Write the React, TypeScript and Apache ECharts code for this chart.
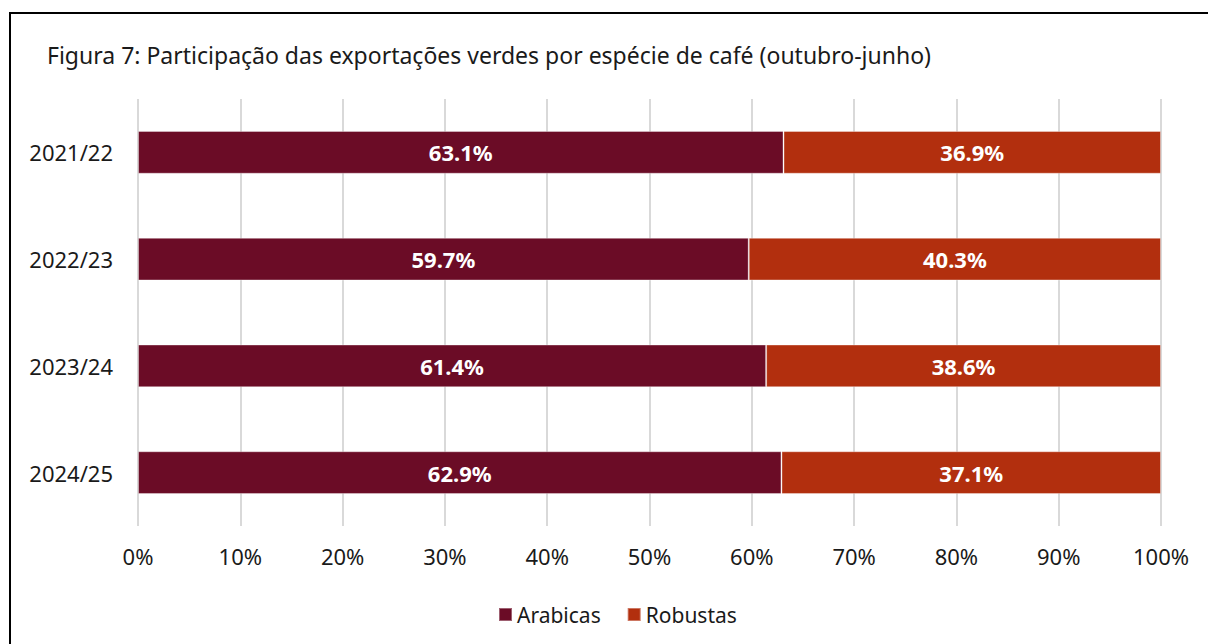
import React, { useEffect, useRef } from "react";
import * as echarts from "echarts";

const categories = ["2021/22", "2022/23", "2023/24", "2024/25"];
const arabicas = [63.1, 59.7, 61.4, 62.9];
const robustas = [36.9, 40.3, 38.6, 37.1];
const xTicks = [0, 10, 20, 30, 40, 50, 60, 70, 80, 90, 100];
const seriesNames = ["Arabicas", "Robustas"];
const title = "Figura 7: Participação das exportações verdes por espécie de café (outubro-junho)";

const FONT = "Noto Sans";

export default function App() {
  const ref = useRef<HTMLDivElement>(null);
  useEffect(() => {
    if (!ref.current) return;
    const chart = echarts.init(ref.current, undefined, { renderer: "svg" });
    const label = {
      show: true,
      position: "inside",
      color: "#ffffff",
      fontWeight: "bold",
      fontSize: 22,
      fontFamily: FONT,
      formatter: (p: any) => p.value.toFixed(1) + "%",
    };
    chart.setOption({
      animation: false,
      backgroundColor: "#ffffff",
      textStyle: { fontFamily: FONT },
      title: {
        text: title,
        left: 42,
        top: 38,
        textStyle: { fontSize: 23, fontWeight: "normal", color: "#1a1a1a", fontFamily: FONT },
      },
      graphic: [
        {
          type: "rect",
          shape: { x: 10, y: 13, width: 1400, height: 800 },
          style: { fill: "none", stroke: "#000000", lineWidth: 2 },
          silent: true,
        },
      ],
      legend: {
        data: seriesNames,
        left: 493,
        top: 599,
        icon: "rect",
        itemWidth: 13,
        itemHeight: 13,
        itemGap: 26,
        textStyle: { fontSize: 21, color: "#1a1a1a", fontFamily: FONT },
      },
      grid: { left: 138, right: 47, top: 99, bottom: 118, containLabel: false },
      xAxis: {
        type: "value",
        min: xTicks[0],
        max: xTicks[xTicks.length - 1],
        interval: 10,
        axisLine: { show: false },
        axisTick: { show: false },
        splitLine: { show: true, lineStyle: { color: "#d9d9d9", width: 2 } },
        axisLabel: {
          formatter: (v: number) => v + "%",
          fontSize: 22,
          color: "#1a1a1a",
          margin: 19,
          fontFamily: FONT,
        },
      },
      yAxis: {
        type: "category",
        data: categories,
        inverse: true,
        axisLine: { show: false },
        axisTick: { show: false },
        axisLabel: { fontSize: 22, color: "#1a1a1a", margin: 25, fontFamily: FONT },
      },
      series: [
        {
          name: seriesNames[0],
          type: "bar",
          stack: "total",
          data: arabicas,
          barCategoryGap: "60%",
          itemStyle: { color: "#6b0c26", borderColor: "rgba(255,255,255,0.35)", borderWidth: 1 },
          label,
        },
        {
          name: seriesNames[1],
          type: "bar",
          stack: "total",
          data: robustas,
          barCategoryGap: "60%",
          itemStyle: { color: "#b22f0e", borderColor: "rgba(255,255,255,0.35)", borderWidth: 1 },
          label,
        },
      ],
    });
    return () => chart.dispose();
  }, []);
  return (
    <div
      ref={ref}
      style={{ position: "fixed", left: 0, top: 0, width: 1208, height: 644 }}
    />
  );
}
